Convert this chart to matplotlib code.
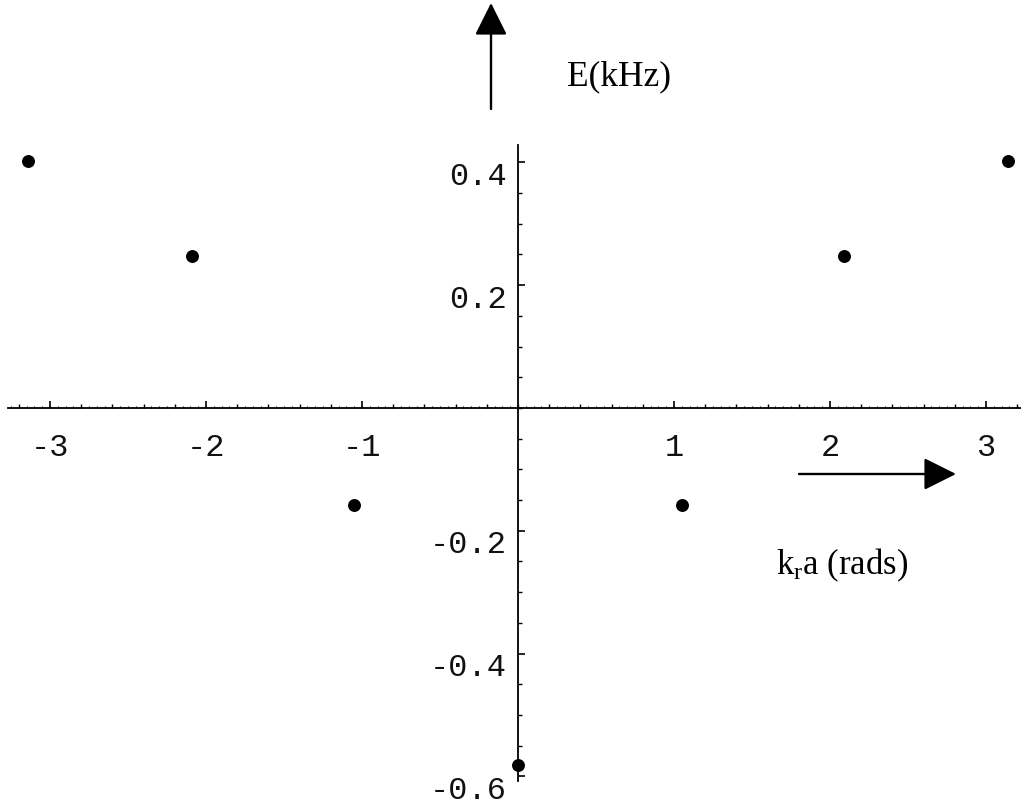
import numpy as np
import matplotlib
matplotlib.use("Agg")
import matplotlib.pyplot as plt
from matplotlib.ticker import MultipleLocator, FixedLocator, NullFormatter
import matplotlib.transforms as mtransforms

# ---- data ----
k_values = [-3.14, -2.09, -1.05, 0.0, 1.05, 2.09, 3.14]
energy_khz = [0.403, 0.247, -0.158, -0.581, -0.158, 0.247, 0.403]
x_tick_values = [-3, -2, -1, 1, 2, 3]
x_tick_labels = ["-3", "-2", "-1", "1", "2", "3"]
y_tick_values = [-0.6, -0.4, -0.2, 0.2, 0.4]
y_tick_labels = ["-0.6", "-0.4", "-0.2", "0.2", "0.4"]
y_axis_label = "E(kHz)"
x_axis_label = r"k$_\mathrm{r}$a (rads)"

plt.rcParams["mathtext.fontset"] = "custom"
plt.rcParams["mathtext.rm"] = "Liberation Serif"
plt.rcParams["mathtext.it"] = "Liberation Serif:italic"

W, H = 1021, 804
fig = plt.figure(figsize=(W / 100, H / 100), dpi=100)
ax = fig.add_axes([0, 0, 1, 1])

# data -> pixel mapping: x0 at px 518, 156 px/unit; y0 at px 409 (from top), 614 px/unit
ax.set_xlim(-518 / 156, (W - 518) / 156)
ax.set_ylim(-(H - 409) / 614, 409 / 614)

ax.plot(k_values, energy_khz, "o", color="black", markersize=8.3, zorder=5,
        clip_on=False)

for side in ["top", "right"]:
    ax.spines[side].set_visible(False)
ax.spines["bottom"].set_position("zero")
ax.spines["left"].set_position("zero")
ax.spines["bottom"].set_bounds(-3.27, 3.3)
ax.spines["left"].set_bounds(-0.607, 0.428)
for s in ["bottom", "left"]:
    ax.spines[s].set_linewidth(1.3)

mono = "Liberation Mono"
ax.xaxis.set_major_locator(FixedLocator(x_tick_values))
ax.set_xticklabels(x_tick_labels, fontfamily=mono, fontsize=23, color="#111111")
ax.xaxis.set_minor_locator(FixedLocator(np.arange(-3.2, 3.21, 0.2)))
ax.yaxis.set_major_locator(FixedLocator(y_tick_values))
ax.set_yticklabels(y_tick_labels, fontfamily=mono, fontsize=23, color="#111111")
ax.yaxis.set_minor_locator(FixedLocator(np.arange(-0.6, 0.401, 0.05)))

ax.tick_params(axis="x", which="major", direction="in", length=5, width=1.2, pad=17)
ax.tick_params(axis="x", which="minor", direction="in", length=3, width=1.0)
ax.tick_params(axis="y", which="major", direction="in", length=5, width=1.2, pad=8)
ax.tick_params(axis="y", which="minor", direction="in", length=3, width=1.0)

# y labels sit slightly below their ticks in the reference
off = mtransforms.ScaledTranslation(0, -10 / 100, fig.dpi_scale_trans)
for lab in ax.get_yticklabels():
    lab.set_transform(lab.get_transform() + off)

# very fine ticks along the horizontal axis (dotted look)
sec = ax.secondary_xaxis((H - 409) / H)
sec.spines["bottom"].set_visible(False)
sec.xaxis.set_major_locator(FixedLocator(np.arange(-3.25, 3.3, 0.05)))
sec.xaxis.set_major_formatter(NullFormatter())
sec.tick_params(axis="x", direction="in", length=1.5, width=0.8)

# arrows and labels
arrow_kw = dict(arrowstyle="-|>,head_length=1.0,head_width=0.5", color="black",
                lw=1.7, mutation_scale=20, shrinkA=0, shrinkB=0)
ax.annotate("", xy=(491, H - 4), xytext=(491, H - 110),
            xycoords="figure pixels", textcoords="figure pixels", arrowprops=arrow_kw)
ax.annotate("", xy=(956, H - 475), xytext=(799, H - 475),
            xycoords="figure pixels", textcoords="figure pixels", arrowprops=arrow_kw)

fig.text(567 / W, 1 - 77 / H, y_axis_label, fontfamily="Liberation Serif",
         fontsize=25.5, ha="left", va="center")
fig.text(776 / W, 1 - 565 / H, x_axis_label, fontfamily="Liberation Serif",
         fontsize=25, ha="left", va="center")

fig.savefig("out.png", dpi=100)
